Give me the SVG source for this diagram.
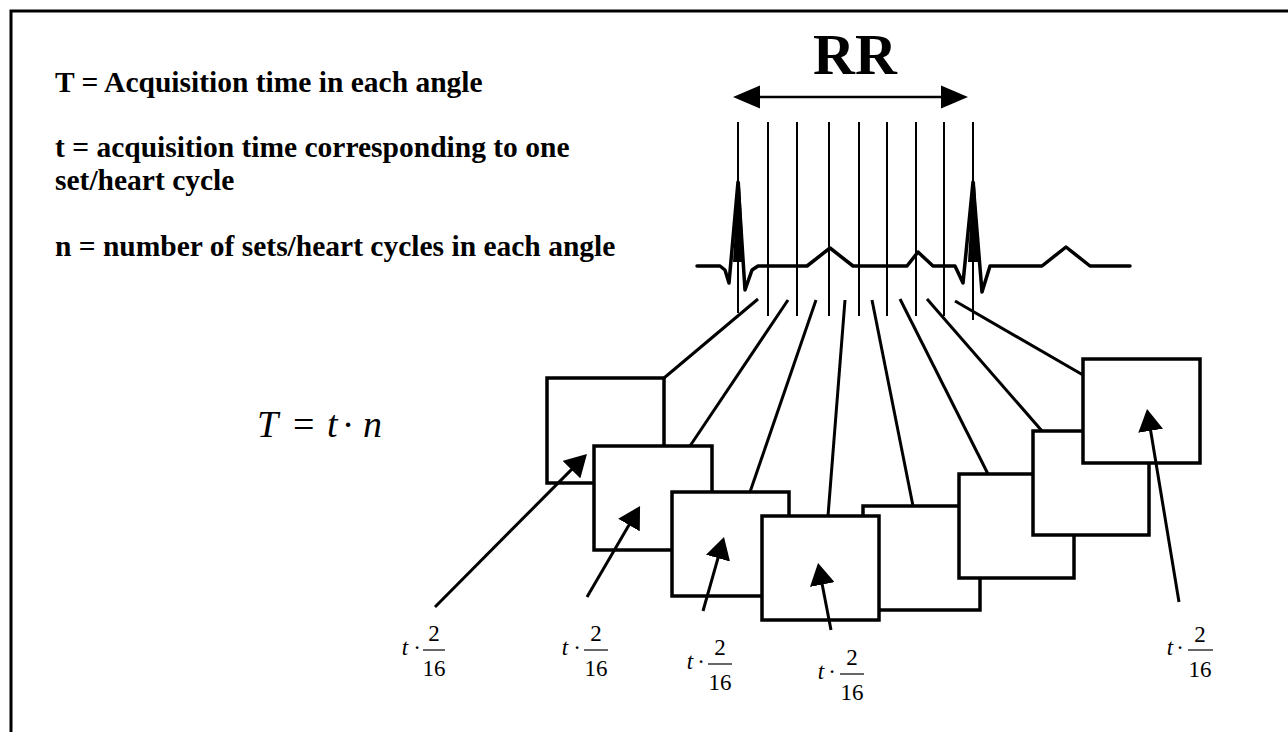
<svg xmlns="http://www.w3.org/2000/svg" width="1288" height="732" viewBox="0 0 1288 732">
<style>
.lbl{font-family:"Liberation Serif","Times New Roman",serif;font-weight:bold;font-size:29.5px;fill:#000}
.math{font-family:"Liberation Serif","Times New Roman",serif;fill:#000}
.fr{font-family:"Liberation Serif","Times New Roman",serif;font-size:23px;fill:#000;text-anchor:middle}
.box{fill:#fff;stroke:#000;stroke-width:3.5}
.conn{stroke:#000;stroke-width:3;fill:none;stroke-linecap:butt}
.vl{stroke:#000;stroke-width:2}
.bar{stroke:#000;stroke-width:1.2}
</style>
<defs>
<marker id="ah" viewBox="0 -12.5 22 25" markerWidth="22" markerHeight="25" refX="7" refY="0" markerUnits="userSpaceOnUse" orient="auto">
<path d="M0,-12.5 L22,0 L0,12.5 z" fill="#000"/>
</marker>
</defs>
<rect x="11" y="11" width="1300" height="760" fill="#fff" stroke="#000" stroke-width="3"/>

<g id="legend">
<text class="lbl" x="55" y="92">T = Acquisition time in each angle</text>
<text class="lbl" x="55" y="157">t = acquisition time corresponding to one</text>
<text class="lbl" x="55" y="190">set/heart cycle</text>
<text class="lbl" x="55" y="256">n = number of sets/heart cycles in each angle</text>
</g>

<g id="formula" class="math" font-size="38">
<text x="257" y="437" font-style="italic">T</text>
<text x="293" y="437">=</text>
<text x="327" y="437" font-style="italic">t</text>
<text x="348" y="437" text-anchor="middle">·</text>
<text x="363" y="437" font-style="italic">n</text>
</g>

<g id="rr">
<text x="855" y="74" text-anchor="middle" font-family="Liberation Serif, Times New Roman, serif" font-weight="bold" font-size="58">RR</text>
<line x1="758" y1="97" x2="943" y2="97" stroke="#000" stroke-width="2.5"/>
<polygon points="733,97 760,85.5 760,108.5" fill="#000"/>
<polygon points="968,97 941,85.5 941,108.5" fill="#000"/>
</g>

<g id="ecg">
<polyline fill="none" stroke="#000" stroke-width="3.5" stroke-linejoin="round" stroke-linecap="round" points="697,266 720,266 725,270 729,283 738,182 745,290 752,270 758,266 807,266 830,248 853,266 907,266 918,252 933,266 955,266 963,283 973,182 982,292 990,266 1042,266 1066,247 1090,266 1130,266"/>
<polygon points="733,262 737.5,182 740,182 744,262" fill="#000"/>
<polygon points="968,262 972.5,182 975,182 979,262" fill="#000"/>
</g>

<g id="gates">
<line class="vl" x1="738" y1="122" x2="738" y2="313"/>
<line class="vl" x1="768" y1="122" x2="768" y2="316"/>
<line class="vl" x1="797" y1="122" x2="797" y2="316"/>
<line class="vl" x1="829" y1="122" x2="829" y2="316"/>
<line class="vl" x1="859" y1="122" x2="859" y2="316"/>
<line class="vl" x1="887" y1="122" x2="887" y2="316"/>
<line class="vl" x1="916" y1="122" x2="916" y2="316"/>
<line class="vl" x1="944" y1="122" x2="944" y2="316"/>
<line class="vl" x1="973" y1="122" x2="973" y2="320"/>
</g>

<g id="connectors">
<line class="conn" x1="758" y1="299" x2="664" y2="378"/>
<line class="conn" x1="788" y1="300" x2="690" y2="446"/>
<line class="conn" x1="816" y1="300" x2="750" y2="492"/>
<line class="conn" x1="845" y1="300" x2="828" y2="516"/>
<line class="conn" x1="872" y1="300" x2="913" y2="506"/>
<line class="conn" x1="900" y1="299" x2="988" y2="474"/>
<line class="conn" x1="927" y1="299" x2="1042" y2="431"/>
<line class="conn" x1="955" y1="301" x2="1083" y2="375"/>
</g>

<g id="box1"><rect class="box" x="547" y="378" width="117" height="105"/></g>
<g id="box2"><rect class="box" x="594" y="446" width="118" height="104"/></g>
<g id="box3"><rect class="box" x="672" y="492" width="117" height="104"/></g>
<g id="box5"><rect class="box" x="863" y="506" width="117" height="104"/></g>
<g id="box4"><rect class="box" x="762" y="516" width="117" height="104"/></g>
<g id="box6"><rect class="box" x="959" y="474" width="115" height="104"/></g>
<g id="box7"><rect class="box" x="1033" y="431" width="116" height="104"/></g>
<g id="box8"><rect class="box" x="1083" y="359" width="117" height="104"/></g>

<g id="arrows">
<line class="conn" x1="435" y1="607" x2="576.4" y2="464.6" marker-end="url(#ah)"/>
<line class="conn" x1="587" y1="597" x2="632.5" y2="519" marker-end="url(#ah)"/>
<line class="conn" x1="703" y1="611" x2="719.9" y2="551.4" marker-end="url(#ah)"/>
<line class="conn" x1="831" y1="630" x2="820.9" y2="577.7" marker-end="url(#ah)"/>
<line class="conn" x1="1179" y1="602" x2="1149.5" y2="423.8" marker-end="url(#ah)"/>
</g>

<g id="frac1">
<text class="fr" x="405" y="655" font-style="italic">t</text>
<text class="fr" x="417" y="655">·</text>
<line class="bar" x1="423" y1="650" x2="445" y2="650"/>
<text class="fr" x="434" y="641">2</text>
<text class="fr" x="434" y="676">16</text>
</g>
<g id="frac2">
<text class="fr" x="565" y="655" font-style="italic">t</text>
<text class="fr" x="577" y="655">·</text>
<line class="bar" x1="584" y1="650" x2="608" y2="650"/>
<text class="fr" x="596" y="641">2</text>
<text class="fr" x="596" y="676">16</text>
</g>
<g id="frac3">
<text class="fr" x="690" y="669" font-style="italic">t</text>
<text class="fr" x="701" y="669">·</text>
<line class="bar" x1="708" y1="664" x2="732" y2="664"/>
<text class="fr" x="720" y="655">2</text>
<text class="fr" x="720" y="690">16</text>
</g>
<g id="frac4">
<text class="fr" x="821" y="679" font-style="italic">t</text>
<text class="fr" x="832" y="679">·</text>
<line class="bar" x1="840" y1="674" x2="864" y2="674"/>
<text class="fr" x="852" y="665">2</text>
<text class="fr" x="852" y="700">16</text>
</g>
<g id="frac5">
<text class="fr" x="1170" y="655" font-style="italic">t</text>
<text class="fr" x="1180" y="655">·</text>
<line class="bar" x1="1188" y1="650" x2="1213" y2="650"/>
<text class="fr" x="1200" y="642">2</text>
<text class="fr" x="1200" y="677">16</text>
</g>
</svg>
